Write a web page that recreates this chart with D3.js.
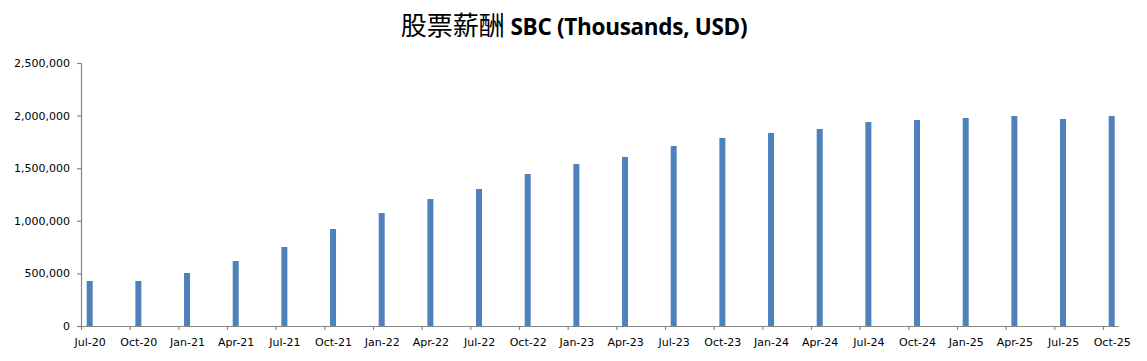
<!DOCTYPE html>
<html>
<head>
<meta charset="utf-8">
<script src="https://cdn.jsdelivr.net/npm/d3@7"></script>
<style>
  body { margin: 0; background: #fff; }
  svg { display: block; }
</style>
</head>
<body>
<svg id="chart"></svg>
<script>
// quarters shown on the x axis
const quarters = ['Jul-20', 'Oct-20', 'Jan-21', 'Apr-21', 'Jul-21', 'Oct-21', 'Jan-22', 'Apr-22',
  'Jul-22', 'Oct-22', 'Jan-23', 'Apr-23', 'Jul-23', 'Oct-23', 'Jan-24', 'Apr-24',
  'Jul-24', 'Oct-24', 'Jan-25', 'Apr-25', 'Jul-25', 'Oct-25'];
// stock based compensation, thousands USD
const sbc = [428000, 428000, 504000, 618000, 751000, 922000, 1074000, 1207000,
  1302000, 1445000, 1540000, 1607000, 1711000, 1787000, 1835000, 1873000,
  1939000, 1958000, 1977000, 1996000, 1968000, 1996000];
const yTicks = [0, 500000, 1000000, 1500000, 2000000, 2500000];

const svgWidth = 1147, svgHeight = 361;
const plotLeft = 81, plotRight = 1119, plotTop = 63, plotBottom = 326;
const lastTick = 1103;
const barOffset = 8.7, barWidth = 6;
const axisColor = '#868686';
const labelFont = "'DejaVu Sans', Verdana, sans-serif";

const svg = d3.select('#chart')
  .attr('width', svgWidth)
  .attr('height', svgHeight);

// title
const title = svg.append('text')
  .attr('x', 574)
  .attr('y', 35)
  .attr('text-anchor', 'middle')
  .attr('fill', '#000');
title.append('tspan')
  .attr('font-family', "'Noto Sans CJK SC', sans-serif")
  .attr('font-size', 26)
  .text('股票薪酬 ');
title.append('tspan')
  .attr('font-family', "'Open Sans', sans-serif")
  .attr('font-weight', 'bold')
  .attr('font-size', 22.5)
  .attr('letter-spacing', -0.3)
  .text('SBC (Thousands, USD)');

let xScale = d3.scalePoint()
  .domain(quarters)
  .range([plotLeft, lastTick]);

let yScale = d3.scaleLinear()
  .domain([0, 2500000])
  .range([plotBottom, plotTop]);

// bars
svg.append('g')
  .selectAll('rect')
  .data(sbc)
  .enter()
  .append('rect')
  .attr('x', (d, i) => xScale(quarters[i]) + barOffset - barWidth / 2)
  .attr('y', d => yScale(d))
  .attr('width', barWidth)
  .attr('height', d => plotBottom - yScale(d))
  .attr('fill', '#4F81BD');

// y axis
let y_axis = d3.axisLeft(yScale)
  .tickValues(yTicks)
  .tickSize(4)
  .tickPadding(7)
  .tickFormat(d3.format(','));

const gy = svg.append('g')
  .attr('transform', 'translate(' + plotLeft + ',0)')
  .call(y_axis);

// x axis
let x_axis = d3.axisBottom(xScale)
  .tickSize(4)
  .tickPadding(8);

const gx = svg.append('g')
  .attr('transform', 'translate(0,' + plotBottom + ')')
  .call(x_axis);

gx.select('.domain').attr('d', 'M' + plotLeft + ',0.5H' + plotRight);
gx.selectAll('.tick text').attr('dx', barOffset);

[gx, gy].forEach(g => {
  g.select('.domain').attr('stroke', axisColor).attr('stroke-width', 1.2);
  g.selectAll('.tick line').attr('stroke', axisColor).attr('stroke-width', 1.2);
  g.selectAll('.tick text')
    .attr('fill', '#000')
    .attr('font-family', labelFont)
    .attr('font-size', 11);
});
</script>
</body>
</html>
